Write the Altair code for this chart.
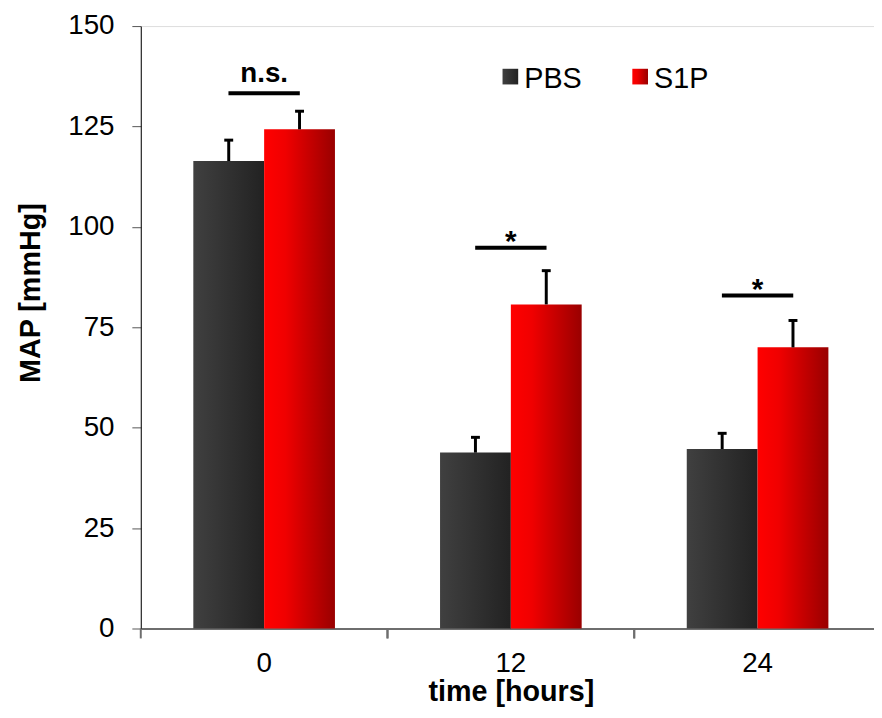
import altair as alt
import pandas as pd

times = ["0", "12", "24"]
groups = ["PBS", "S1P"]
pbs_mean = [116.4, 43.8, 44.7]
pbs_err = [5.2, 3.8, 3.9]
s1p_mean = [124.3, 80.7, 70.0]
s1p_err = [4.5, 8.4, 6.7]
sig_y = [133.3, 94.8, 82.9]
sig_label = ["n.s.", "*", "*"]

rows = []
for i, t in enumerate(times):
    rows.append({"time": t, "group": "PBS", "mean": pbs_mean[i], "upper": pbs_mean[i] + pbs_err[i]})
    rows.append({"time": t, "group": "S1P", "mean": s1p_mean[i], "upper": s1p_mean[i] + s1p_err[i]})
df = pd.DataFrame(rows)
sig_df = pd.DataFrame({"time": times, "y": sig_y, "label": sig_label})
leg_df = pd.DataFrame({"group": groups})

FONT = "Liberation Sans"

grad_pbs = alt.Gradient(gradient="linear", x1=0, x2=1, y1=0, y2=0,
                        stops=[alt.GradientStop(color="#404040", offset=0),
                               alt.GradientStop(color="#222222", offset=1)])
grad_s1p = alt.Gradient(gradient="linear", x1=0, x2=1, y1=0, y2=0,
                        stops=[alt.GradientStop(color="#ff0000", offset=0),
                               alt.GradientStop(color="#f00000", offset=0.3),
                               alt.GradientStop(color="#990000", offset=1)])

x_scale = alt.Scale(domain=times, range=[0, 747], paddingInner=0, paddingOuter=0)
xo_scale = alt.Scale(domain=groups, paddingInner=0, paddingOuter=0.742)
y_scale = alt.Scale(domain=[0, 150], nice=False)

x_enc = alt.X("time:N", scale=x_scale, sort=times,
              axis=alt.Axis(title="time [hours]", labelAngle=0, ticks=False,
                            domainColor="#6e6e6e", domainWidth=2,
                            labelFont=FONT, labelFontSize=28, labelColor="#000",
                            labelPadding=21, titleFont=FONT, titleFontSize=29,
                            titleFontWeight="bold", titleColor="#000", titlePadding=1))
xo_enc = alt.XOffset("group:N", scale=xo_scale, sort=groups)
y_axis = alt.Axis(title="MAP [mmHg]", values=[0, 25, 50, 75, 100, 125, 150], grid=False,
                  tickSize=9, tickColor="#555", domainColor="#000", domainWidth=1,
                  labelFont=FONT, labelFontSize=28, labelColor="#000", labelPadding=18,
                  titleFont=FONT, titleFontSize=29, titleFontWeight="bold",
                  titleColor="#000", titlePadding=22, titleY=269)

base = alt.Chart(df)

pbs_bar = base.transform_filter(alt.datum.group == "PBS").mark_bar(fill=grad_pbs, strokeWidth=0).encode(
    x=x_enc, xOffset=xo_enc, y=alt.Y("mean:Q", scale=y_scale, axis=y_axis))
s1p_bar = base.transform_filter(alt.datum.group == "S1P").mark_bar(fill=grad_s1p, strokeWidth=0).encode(
    x=alt.X("time:N", scale=x_scale, sort=times), xOffset=xo_enc,
    y=alt.Y("mean:Q", scale=y_scale))

err_rule = base.mark_rule(color="#000", strokeWidth=3).encode(
    x=alt.X("time:N", scale=x_scale, sort=times), xOffset=xo_enc,
    y=alt.Y("mean:Q", scale=y_scale), y2="upper:Q")
err_cap = base.mark_tick(color="#000", size=9, thickness=3, opacity=1).encode(
    x=alt.X("time:N", scale=x_scale, sort=times), xOffset=xo_enc,
    y=alt.Y("upper:Q", scale=y_scale))

sig_line = alt.Chart(sig_df).mark_tick(color="#000", size=72, thickness=4, opacity=1).encode(
    x=alt.X("time:N", scale=x_scale, sort=times), y=alt.Y("y:Q", scale=y_scale))
sig_ns = alt.Chart(sig_df).transform_filter(alt.datum.label == "n.s.").mark_text(
    font=FONT, fontSize=28, fontWeight="bold", color="#000", baseline="alphabetic", dy=-11).encode(
    x=alt.X("time:N", scale=x_scale, sort=times), y=alt.Y("y:Q", scale=y_scale), text="label:N")
sig_star = alt.Chart(sig_df).transform_filter(alt.datum.label == "*").mark_text(
    font=FONT, fontSize=30, fontWeight="bold", color="#000", baseline="alphabetic", dy=3).encode(
    x=alt.X("time:N", scale=x_scale, sort=times), y=alt.Y("y:Q", scale=y_scale), text="label:N")

tick_l = alt.Chart(sig_df).mark_rule(color="#6e6e6e", strokeWidth=2).encode(
    x=alt.X("time:N", scale=x_scale, sort=times, bandPosition=0),
    y=alt.value(608), y2=alt.value(618))
tick_r = alt.Chart(sig_df).mark_rule(color="#6e6e6e", strokeWidth=2).encode(
    x=alt.X("time:N", scale=x_scale, sort=times, bandPosition=1),
    y=alt.value(608), y2=alt.value(618))

leg_pbs_sq = alt.Chart(leg_df).transform_filter(alt.datum.group == "PBS").mark_square(
    size=250, fill=grad_pbs, strokeWidth=0, opacity=1, filled=True).encode(
    x=alt.value(373), y=alt.value(51))
leg_s1p_sq = alt.Chart(leg_df).transform_filter(alt.datum.group == "S1P").mark_square(
    size=250, fill=grad_s1p, strokeWidth=0, opacity=1, filled=True).encode(
    x=alt.value(504), y=alt.value(51))
leg_pbs_tx = alt.Chart(leg_df).transform_filter(alt.datum.group == "PBS").mark_text(
    font=FONT, fontSize=29, color="#000", align="left", baseline="alphabetic").encode(
    x=alt.value(387), y=alt.value(62), text="group:N")
leg_s1p_tx = alt.Chart(leg_df).transform_filter(alt.datum.group == "S1P").mark_text(
    font=FONT, fontSize=29, color="#000", align="left", baseline="alphabetic").encode(
    x=alt.value(518), y=alt.value(62), text="group:N")

chart = alt.layer(
    pbs_bar, s1p_bar, err_rule, err_cap, sig_line, sig_ns, sig_star, tick_l, tick_r,
    leg_pbs_sq, leg_s1p_sq, leg_pbs_tx, leg_s1p_tx
).properties(
    width=740, height=608,
    padding={"left": 134, "top": 15, "right": 0, "bottom": 79},
    autosize="none",
).configure_view(strokeWidth=0).configure(background="white")

chart.save("out.html", embed_options={"renderer": "svg", "actions": False})
